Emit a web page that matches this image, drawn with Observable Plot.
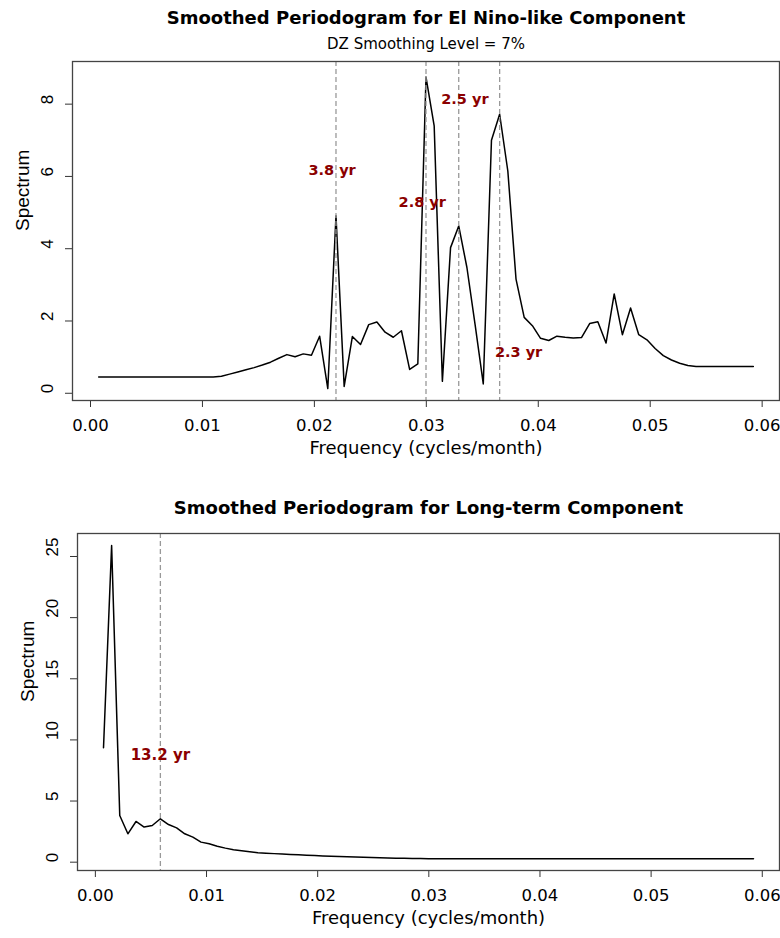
<!DOCTYPE html>
<html>
<head>
<meta charset="utf-8">
<script src="https://cdn.jsdelivr.net/npm/d3@7"></script>
<script src="https://cdn.jsdelivr.net/npm/@observablehq/plot@0.6"></script>
<style>
  html, body { margin: 0; padding: 0; background: #fff; }
  #chart svg { display: block; }
</style>
</head>
<body>
<div id="chart"></div>
<script>
// Frequencies (cycles/month)
const freq = [
  0.000731, 0.001462, 0.002193, 0.002924, 0.003655, 0.004386, 0.005117, 0.005848, 0.006579, 0.00731,
  0.008041, 0.008772, 0.009503, 0.010234, 0.010965, 0.011696, 0.012427, 0.013158, 0.013889, 0.01462,
  0.015351, 0.016082, 0.016813, 0.017544, 0.018275, 0.019006, 0.019737, 0.020468, 0.021199, 0.02193,
  0.022661, 0.023392, 0.024123, 0.024854, 0.025585, 0.026316, 0.027047, 0.027778, 0.028509, 0.02924,
  0.029971, 0.030702, 0.031433, 0.032164, 0.032895, 0.033626, 0.034357, 0.035088, 0.035819, 0.03655,
  0.037281, 0.038012, 0.038743, 0.039474, 0.040205, 0.040936, 0.041667, 0.042398, 0.043129, 0.04386,
  0.044591, 0.045322, 0.046053, 0.046784, 0.047515, 0.048246, 0.048977, 0.049708, 0.050439, 0.05117,
  0.051901, 0.052632, 0.053363, 0.054094, 0.054825, 0.055556, 0.056287, 0.057018, 0.057749, 0.05848,
  0.059211
];

// Smoothed spectrum, El Nino-like component
const elNinoSpec = [
  0.45, 0.45, 0.45, 0.45, 0.45, 0.45, 0.45, 0.45, 0.45, 0.45,
  0.45, 0.45, 0.45, 0.45, 0.45, 0.47, 0.53, 0.59, 0.65, 0.71,
  0.78, 0.86, 0.97, 1.07, 1.01, 1.09, 1.05, 1.58, 0.13, 4.91,
  0.19, 1.57, 1.35, 1.90, 1.97, 1.69, 1.55, 1.73, 0.66, 0.81,
  8.75, 7.40, 0.33, 4.03, 4.63, 3.48, 1.90, 0.26, 7.00, 7.72,
  6.15, 3.16, 2.10, 1.87, 1.52, 1.46, 1.58, 1.55, 1.53, 1.54,
  1.93, 1.98, 1.39, 2.75, 1.62, 2.36, 1.62, 1.48, 1.24, 1.04,
  0.92, 0.83, 0.77, 0.74, 0.74, 0.74, 0.74, 0.74, 0.74, 0.74,
  0.74
];

// Smoothed spectrum, long-term component
const longTermSpec = [
  9.36, 25.9, 3.82, 2.32, 3.33, 2.87, 3.00, 3.55, 3.08, 2.81,
  2.32, 2.05, 1.64, 1.50, 1.31, 1.15, 1.01, 0.93, 0.85, 0.78,
  0.74, 0.70, 0.66, 0.63, 0.60, 0.57, 0.54, 0.51, 0.48, 0.46,
  0.44, 0.42, 0.40, 0.38, 0.36, 0.34, 0.33, 0.32, 0.31, 0.30,
  0.29, 0.28, 0.28, 0.28, 0.28, 0.28, 0.28, 0.28, 0.28, 0.28,
  0.28, 0.28, 0.28, 0.28, 0.28, 0.28, 0.28, 0.28, 0.28, 0.28,
  0.28, 0.28, 0.28, 0.28, 0.28, 0.28, 0.28, 0.28, 0.28, 0.28,
  0.28, 0.28, 0.28, 0.28, 0.28, 0.28, 0.28, 0.28, 0.28, 0.28,
  0.28
];

// Peak markers and labels
const elNinoPeaks = [0.02193, 0.029971, 0.032895, 0.03655];
const elNinoLabels = ["3.8 yr", "2.8 yr", "2.5 yr", "2.3 yr"];
const elNinoLabelX = [0.02158, 0.02964, 0.03345, 0.03824];
const elNinoLabelY = [6.16, 5.28, 8.12, 1.14];

const longPeaks = [0.005848];
const longLabels = ["13.2 yr"];
const longLabelX = [0.005848];
const longLabelY = [8.73];

// Ticks
const xTicks = [0, 0.01, 0.02, 0.03, 0.04, 0.05, 0.06];
const yTicksTop = [0, 2, 4, 6, 8];
const yTicksBottom = [0, 5, 10, 15, 20, 25];

const titles = ["Smoothed Periodogram for El Nino-like Component", "Smoothed Periodogram for Long-term Component"];
const subtitle = "DZ Smoothing Level = 7%";
const xLabel = "Frequency (cycles/month)";
const yLabel = "Spectrum";

const xDomain = [-0.001608, 0.06155];
const H_FONT = "DejaVu Sans";
const V_FONT = "Liberation Sans";
const RED = "#8b0000";

function panel({spec, yDomain, yTicks, peaks, labels, labelX, labelY, title, sub, height, marginTop, marginBottom, marginLeft, labelSize, titleDy}) {
  const series = freq.map((f, i) => ({f, s: spec[i]}));
  const lab = labels.map((t, i) => ({t, x: labelX[i], y: labelY[i]}));
  const marks = [
    Plot.line(series, {x: "f", y: "s", stroke: "#000", strokeWidth: 1.5}),
    Plot.ruleX(peaks, {x: d => d, stroke: "#999", strokeWidth: 1.3, strokeDasharray: "5,3"}),
    Plot.text(lab, {x: "x", y: "y", text: "t", fill: RED, fontWeight: "bold", fontSize: labelSize, fontFamily: H_FONT}),
    Plot.axisX({ticks: xTicks, tickFormat: d3.format(".2f"), tickSize: 7, tickPadding: 12, fontSize: 16.5, fontFamily: H_FONT, label: null, stroke: "#333"}),
    Plot.axisY({ticks: yTicks, tickFormat: () => "", tickSize: 7, label: null, stroke: "#333"}),
    Plot.text(yTicks, {y: d => d, text: d => String(d), frameAnchor: "left", dx: -25, rotate: -90, fontSize: 17, fontFamily: V_FONT, fill: "#000"}),
    Plot.text([yLabel], {frameAnchor: "left", dx: -50, rotate: -90, fontSize: 19, fontFamily: V_FONT, fill: "#000"}),
    Plot.text([xLabel], {frameAnchor: "bottom", dy: 53, fontSize: 18, fontFamily: H_FONT, fill: "#000"}),
    Plot.text([title], {frameAnchor: "top", dy: titleDy, fontSize: 18, fontWeight: "bold", fontFamily: H_FONT, fill: "#000"}),
    Plot.frame({stroke: "#444", strokeWidth: 1.3})
  ];
  if (sub) marks.push(Plot.text([sub], {frameAnchor: "top", dy: -23, fontSize: 15, fontFamily: H_FONT, fill: "#000"}));
  return Plot.plot({
    width: 780,
    height,
    marginTop,
    marginBottom,
    marginLeft,
    marginRight: 1,
    style: {fontFamily: H_FONT, fontSize: "16px", background: "#fff", overflow: "visible"},
    x: {domain: xDomain},
    y: {domain: yDomain},
    marks
  });
}

const chart = document.getElementById("chart");
chart.appendChild(panel({
  spec: elNinoSpec, yDomain: [-0.2, 9.18], yTicks: yTicksTop,
  peaks: elNinoPeaks, labels: elNinoLabels, labelX: elNinoLabelX, labelY: elNinoLabelY,
  title: titles[0], sub: subtitle, height: 470, marginTop: 61, marginBottom: 70, marginLeft: 72,
  labelSize: 14.5, titleDy: -50
}));
chart.appendChild(panel({
  spec: longTermSpec, yDomain: [-0.68, 26.88], yTicks: yTicksBottom,
  peaks: longPeaks, labels: longLabels, labelX: longLabelX, labelY: longLabelY,
  title: titles[1], sub: null, height: 468, marginTop: 63, marginBottom: 68, marginLeft: 77,
  labelSize: 15, titleDy: -32
}));
</script>
</body>
</html>
